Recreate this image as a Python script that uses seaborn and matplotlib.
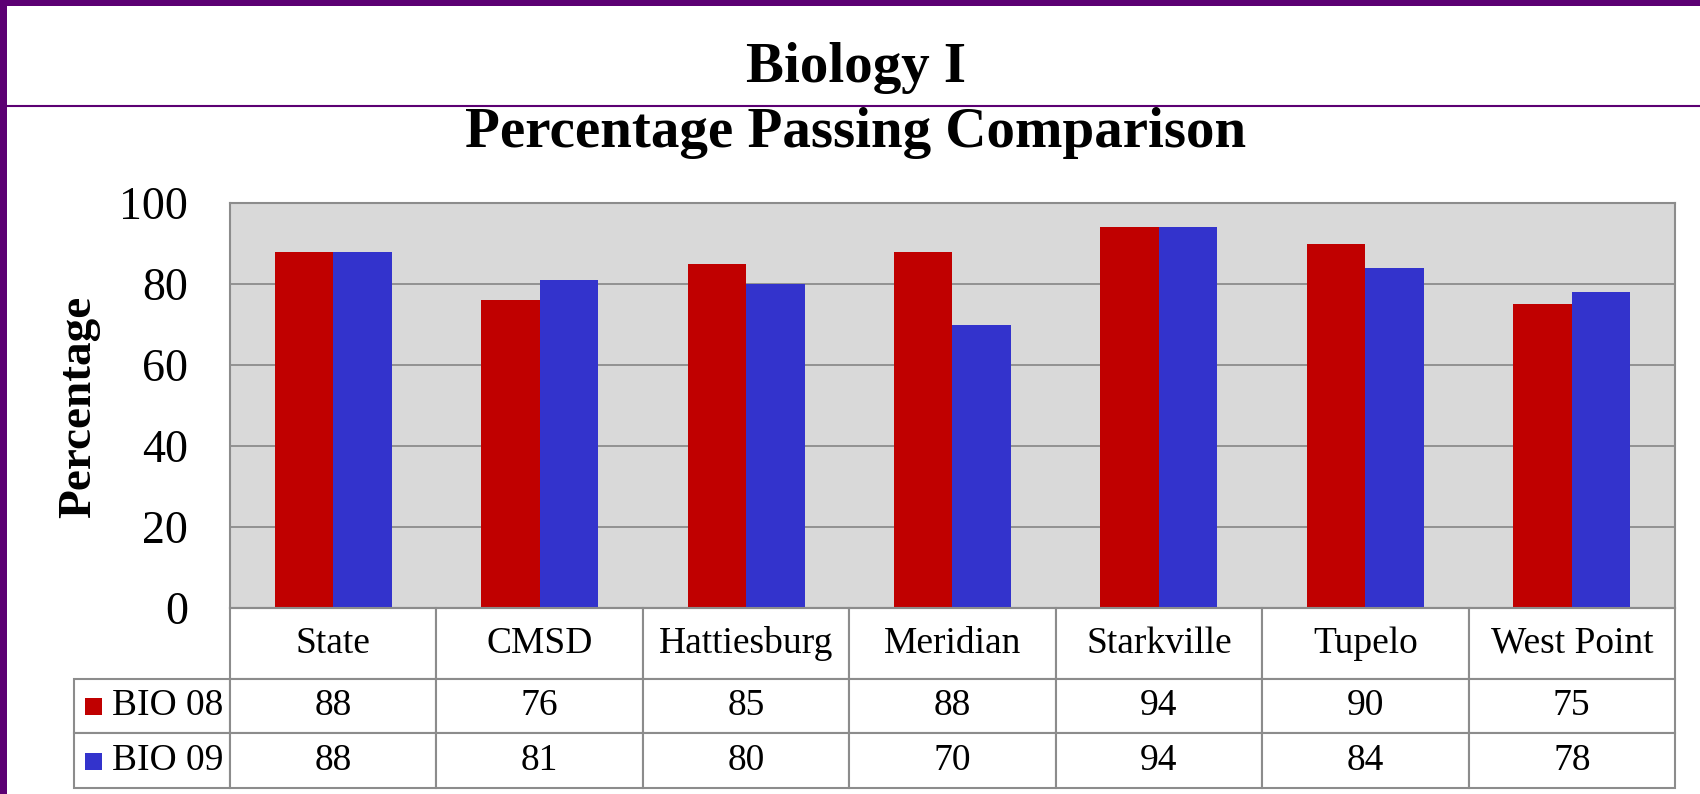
import numpy as np
import pandas as pd
import seaborn as sns
from matplotlib import pyplot as plt
from matplotlib.patches import Rectangle
from matplotlib.lines import Line2D

districts = ["State", "CMSD", "Hattiesburg", "Meridian", "Starkville", "Tupelo", "West Point"]
series = ["BIO 08", "BIO 09"]
bio08 = [88, 76, 85, 88, 94, 90, 75]
bio09 = [88, 81, 80, 70, 94, 84, 78]
colors = ["#C00000", "#3333CC"]
yticks = [0, 20, 40, 60, 80, 100]

df = pd.DataFrame({"District": districts * 2,
                   "Series": [series[0]] * len(districts) + [series[1]] * len(districts),
                   "Pct": bio08 + bio09})

sns.set_style("white")
plt.rcParams['font.family'] = ['Liberation Serif', 'DejaVu Serif']
plt.rcParams['text.color'] = 'black'
plt.rcParams['axes.labelcolor'] = 'black'
plt.rcParams['ytick.color'] = 'black'

W, H = 1700, 794
purple = "#5C0073"
grid_gray = "#8C8C8C"

fig = plt.figure(figsize=(17, 7.94), dpi=100)
# plot area in pixels: left 230, right 1675, top 203, bottom 608
ax = fig.add_axes([230 / W, 1 - 608 / H, 1445 / W, 405 / H])
ax.set_facecolor("#D9D9D9")

sns.barplot(data=df, x="District", y="Pct", hue="Series", palette=colors,
            width=0.567, gap=0, saturation=1, errorbar=None,
            linewidth=0, legend=False, ax=ax)

ax.set_xlim(-0.5, len(districts) - 0.5)
ax.set_ylim(0, 100)
ax.set_yticks(yticks)
ax.tick_params(axis='y', length=0, pad=30, labelsize=33, labelcolor='black')
ax.set_xticks(range(len(districts)))
ax.set_xticklabels([])
ax.tick_params(axis='x', length=0)
ax.set_xlabel("")
ax.set_ylabel("Percentage", fontsize=34, fontweight='bold', color='black')
ax.yaxis.set_label_coords(-0.090, 0.496)
ax.grid(axis='y', color=grid_gray, linewidth=1.3)
ax.set_axisbelow(True)
for s in ax.spines.values():
    s.set_color(grid_gray)
    s.set_linewidth(1.5)

# data table under the plot; first column holds the series names
cell_text = [[series[0]] + [str(v) for v in bio08],
             [series[1]] + [str(v) for v in bio09]]
tbl = ax.table(cellText=cell_text, colLabels=[""] + districts, cellLoc='center',
               bbox=[(74 - 230) / 1445, -(788 - 608) / 405,
                     (1675 - 74) / 1445, (788 - 608) / 405])
tbl.auto_set_font_size(False)
tbl.set_fontsize(27)
for (r, c), cell in tbl.get_celld().items():
    cell.set_edgecolor(grid_gray)
    cell.set_linewidth(1.5)
    cell.set_width(156 if c == 0 else 206.5)
    cell.set_height(71 if r == 0 else 55)
    cell.get_text().set_color('black')
    if c == 0:
        cell._loc = 'right'
        cell.PAD = 0.04
        cell.get_text().set_horizontalalignment('right')
        if r == 0:
            cell.visible_edges = ''

# legend keys in the series name cells
for i, col in enumerate(colors):
    yc = 706 + 55 * i
    fig.patches.append(Rectangle((85 / W, 1 - (yc + 8.5) / H), 17 / W, 17 / H,
                                 transform=fig.transFigure, facecolor=col,
                                 edgecolor='none'))

# titles
fig.text(0.5035, 1 - 82 / H, "Biology I", ha='center', va='baseline',
         fontsize=41, fontweight='bold')
fig.text(0.5035, 1 - 147 / H, "Percentage Passing Comparison", ha='center',
         va='baseline', fontsize=41, fontweight='bold')

# slide frame
fig.patches.append(Rectangle((0, 1 - 6 / H), 1, 6 / H, transform=fig.transFigure,
                             facecolor=purple, edgecolor='none'))
fig.patches.append(Rectangle((0, 0), 7 / W, 1, transform=fig.transFigure,
                             facecolor=purple, edgecolor='none'))
fig.add_artist(Line2D([7 / W, 1], [1 - 106 / H, 1 - 106 / H], color=purple,
                      linewidth=1.5, transform=fig.transFigure))

fig.savefig("out.png", dpi=100)
